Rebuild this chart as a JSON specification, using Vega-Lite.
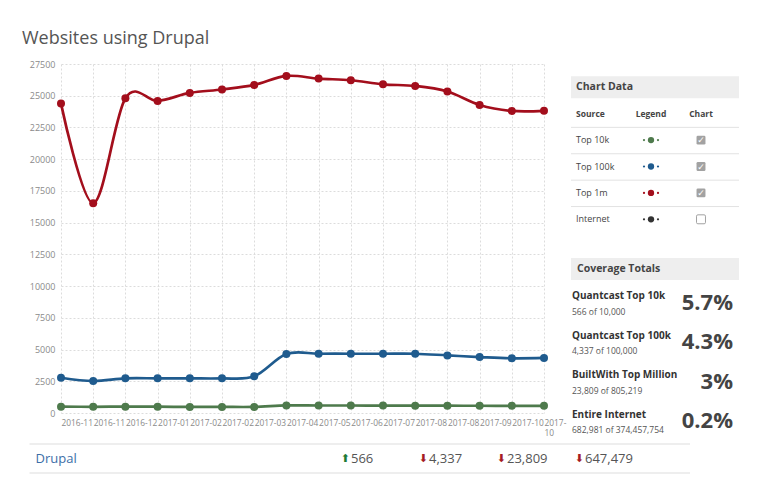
{
  "$schema": "https://vega.github.io/schema/vega-lite/v6.json",
  "background": "white",
  "padding": {"left": 22, "top": 30, "right": 5, "bottom": 5},
  "title": {"text": "Websites using Drupal", "anchor": "start", "fontSize": 18, "fontWeight": "normal", "color": "#555555", "font": "Open Sans", "offset": 12, "dx": -7},
  "config": {"font": "Open Sans", "view": {"stroke": null}},
  "spacing": 1,
  "vconcat": [
    {
      "spacing": 4,
      "hconcat": [
        {
          "width": 483,
          "height": 349,
          "data": {"values": [
            {"date": "2016-11-01", "source": "Top 10k", "sites": 500},
            {"date": "2016-11-28", "source": "Top 10k", "sites": 490},
            {"date": "2016-12-19", "source": "Top 10k", "sites": 500},
            {"date": "2017-01-16", "source": "Top 10k", "sites": 500},
            {"date": "2017-02-06", "source": "Top 10k", "sites": 480},
            {"date": "2017-02-27", "source": "Top 10k", "sites": 480},
            {"date": "2017-03-20", "source": "Top 10k", "sites": 480},
            {"date": "2017-04-17", "source": "Top 10k", "sites": 600},
            {"date": "2017-05-15", "source": "Top 10k", "sites": 590},
            {"date": "2017-06-12", "source": "Top 10k", "sites": 590},
            {"date": "2017-07-10", "source": "Top 10k", "sites": 585},
            {"date": "2017-08-07", "source": "Top 10k", "sites": 580},
            {"date": "2017-08-28", "source": "Top 10k", "sites": 575},
            {"date": "2017-09-18", "source": "Top 10k", "sites": 570},
            {"date": "2017-10-09", "source": "Top 10k", "sites": 568},
            {"date": "2017-10-30", "source": "Top 10k", "sites": 566},
            {"date": "2016-11-01", "source": "Top 100k", "sites": 2780},
            {"date": "2016-11-28", "source": "Top 100k", "sites": 2520},
            {"date": "2016-12-19", "source": "Top 100k", "sites": 2730},
            {"date": "2017-01-16", "source": "Top 100k", "sites": 2730},
            {"date": "2017-02-06", "source": "Top 100k", "sites": 2730},
            {"date": "2017-02-27", "source": "Top 100k", "sites": 2730},
            {"date": "2017-03-20", "source": "Top 100k", "sites": 2890},
            {"date": "2017-04-17", "source": "Top 100k", "sites": 4645},
            {"date": "2017-05-15", "source": "Top 100k", "sites": 4670},
            {"date": "2017-06-12", "source": "Top 100k", "sites": 4670},
            {"date": "2017-07-10", "source": "Top 100k", "sites": 4670},
            {"date": "2017-08-07", "source": "Top 100k", "sites": 4670},
            {"date": "2017-08-28", "source": "Top 100k", "sites": 4540},
            {"date": "2017-09-18", "source": "Top 100k", "sites": 4410},
            {"date": "2017-10-09", "source": "Top 100k", "sites": 4310},
            {"date": "2017-10-30", "source": "Top 100k", "sites": 4337},
            {"date": "2016-11-01", "source": "Top 1m", "sites": 24380},
            {"date": "2016-11-28", "source": "Top 1m", "sites": 16530},
            {"date": "2016-12-19", "source": "Top 1m", "sites": 24800},
            {"date": "2017-01-16", "source": "Top 1m", "sites": 24590},
            {"date": "2017-02-06", "source": "Top 1m", "sites": 25220},
            {"date": "2017-02-27", "source": "Top 1m", "sites": 25490},
            {"date": "2017-03-20", "source": "Top 1m", "sites": 25850},
            {"date": "2017-04-17", "source": "Top 1m", "sites": 26560},
            {"date": "2017-05-15", "source": "Top 1m", "sites": 26350},
            {"date": "2017-06-12", "source": "Top 1m", "sites": 26220},
            {"date": "2017-07-10", "source": "Top 1m", "sites": 25900},
            {"date": "2017-08-07", "source": "Top 1m", "sites": 25770},
            {"date": "2017-08-28", "source": "Top 1m", "sites": 25330},
            {"date": "2017-09-18", "source": "Top 1m", "sites": 24270},
            {"date": "2017-10-09", "source": "Top 1m", "sites": 23800},
            {"date": "2017-10-30", "source": "Top 1m", "sites": 23809}
          ]},
          "encoding": {
            "x": {"field": "date", "type": "ordinal", "scale": {"type": "point", "padding": 0},
              "axis": {"title": null, "labelAngle": 0, "labelAlign": "left", "labelExpr": "datum.index == 1 ? ['2017-', '10'] : slice(datum.value, 0, 7)", "labelFontSize": 8.4, "labelColor": "#8a8a8a", "labelPadding": 5, "labelLineHeight": 10, "ticks": false, "domain": false, "grid": true, "gridColor": "#dcdcdc", "gridDash": [2, 2], "labelOverlap": false}},
            "y": {"field": "sites", "type": "quantitative", "scale": {"domain": [0, 27500], "nice": false},
              "axis": {"title": null, "values": [0, 2500, 5000, 7500, 10000, 12500, 15000, 17500, 20000, 22500, 25000, 27500], "format": "d", "labelFontSize": 9, "labelColor": "#8a8a8a", "labelPadding": 6, "ticks": false, "domain": false, "gridColor": "#dcdcdc", "gridDash": [2, 2]}},
            "color": {"field": "source", "type": "nominal", "scale": {"domain": ["Top 10k", "Top 100k", "Top 1m", "Internet"], "range": ["#4e7a4c", "#1f5b8e", "#a30e1c", "#333333"]}, "legend": null}
          },
          "layer": [
            {"mark": {"type": "line", "interpolate": "cardinal", "strokeWidth": 2.7}},
            {"mark": {"type": "point", "filled": true, "size": 64, "opacity": 1}}
          ]
        },
        {
          "spacing": 27,
          "vconcat": [
            {
              "width": 168,
              "height": 166.3,
              "data": {"values": [
                {"source": "Top 10k", "chart": true},
                {"source": "Top 100k", "chart": true},
                {"source": "Top 1m", "chart": true},
                {"source": "Internet", "chart": false}
              ]},
              "layer": [
                {
                  "data": {"values": [{"heading": "Chart Data"}]},
                  "mark": {"type": "rect", "color": "#eeeeee"},
                  "encoding": {"y": {"field": "heading", "type": "nominal", "scale": {"type": "band", "domain": ["Chart Data", "Source", "Top 10k", "Top 100k", "Top 1m", "Internet"], "paddingInner": 0.167, "paddingOuter": 0.233, "align": 1}, "axis": null}}
                },
                {
                  "data": {"values": [{"heading": "Chart Data"}]},
                  "mark": {"type": "text", "align": "left", "baseline": "middle", "fontSize": 10.5, "fontWeight": "bold", "color": "#444444"},
                  "encoding": {
                    "y": {"field": "heading", "type": "nominal", "axis": null},
                    "x": {"datum": "Source", "type": "nominal", "bandPosition": 0, "scale": {"type": "band", "domain": ["Source", "Legend", "Chart"], "range": [5, 155], "paddingInner": 0, "paddingOuter": 0}, "axis": null},
                    "text": {"field": "heading"}
                  }
                },
                {
                  "data": {"values": [{"column": "Source"}]},
                  "mark": {"type": "text", "align": "left", "baseline": "middle", "fontSize": 8.5, "fontWeight": "bold", "color": "#444444"},
                  "encoding": {
                    "y": {"datum": "Source", "type": "nominal", "axis": null},
                    "x": {"field": "column", "type": "nominal", "bandPosition": 0, "axis": null},
                    "text": {"field": "column"}
                  }
                },
                {
                  "data": {"values": [{"column": "Legend"}, {"column": "Chart"}]},
                  "mark": {"type": "text", "align": "center", "baseline": "middle", "fontSize": 8.5, "fontWeight": "bold", "color": "#444444"},
                  "encoding": {
                    "y": {"datum": "Source", "type": "nominal", "axis": null},
                    "x": {"field": "column", "type": "nominal", "axis": null},
                    "text": {"field": "column"}
                  }
                },
                {
                  "mark": {"type": "rule", "color": "#e2e2e2", "strokeWidth": 1},
                  "encoding": {"y": {"field": "source", "type": "nominal", "bandPosition": -0.08, "axis": null}}
                },
                {
                  "mark": {"type": "text", "align": "left", "baseline": "middle", "fontSize": 9, "color": "#444444"},
                  "encoding": {
                    "y": {"field": "source", "type": "nominal", "axis": null},
                    "x": {"datum": "Source", "type": "nominal", "bandPosition": 0, "axis": null},
                    "text": {"field": "source"}
                  }
                },
                {
                  "mark": {"type": "point", "filled": true, "size": 5, "opacity": 1, "xOffset": -7},
                  "encoding": {
                    "y": {"field": "source", "type": "nominal", "axis": null},
                    "x": {"datum": "Legend", "type": "nominal", "axis": null},
                    "color": {"field": "source", "type": "nominal", "legend": null}
                  }
                },
                {
                  "mark": {"type": "point", "filled": true, "size": 5, "opacity": 1, "xOffset": 7},
                  "encoding": {
                    "y": {"field": "source", "type": "nominal", "axis": null},
                    "x": {"datum": "Legend", "type": "nominal", "axis": null},
                    "color": {"field": "source", "type": "nominal", "legend": null}
                  }
                },
                {
                  "mark": {"type": "point", "filled": true, "size": 40, "opacity": 1},
                  "encoding": {
                    "y": {"field": "source", "type": "nominal", "axis": null},
                    "x": {"datum": "Legend", "type": "nominal", "axis": null},
                    "color": {"field": "source", "type": "nominal", "legend": null}
                  }
                },
                {
                  "transform": [{"filter": "datum.chart"}],
                  "mark": {"type": "point", "shape": "M -0.7 -1 H 0.7 Q 1 -1 1 -0.7 V 0.7 Q 1 1 0.7 1 H -0.7 Q -1 1 -1 0.7 V -0.7 Q -1 -1 -0.7 -1 Z", "filled": true, "size": 80, "opacity": 1, "color": "#a2a2a2"},
                  "encoding": {
                    "y": {"field": "source", "type": "nominal", "axis": null},
                    "x": {"datum": "Chart", "type": "nominal", "axis": null}
                  }
                },
                {
                  "transform": [{"filter": "datum.chart"}],
                  "mark": {"type": "text", "text": "✓", "align": "center", "baseline": "middle", "fontSize": 9, "fontWeight": "bold", "color": "#ffffff", "font": "DejaVu Sans"},
                  "encoding": {
                    "y": {"field": "source", "type": "nominal", "axis": null},
                    "x": {"datum": "Chart", "type": "nominal", "axis": null}
                  }
                },
                {
                  "transform": [{"filter": "!datum.chart"}],
                  "mark": {"type": "point", "shape": "M -0.7 -1 H 0.7 Q 1 -1 1 -0.7 V 0.7 Q 1 1 0.7 1 H -0.7 Q -1 1 -1 0.7 V -0.7 Q -1 -1 -0.7 -1 Z", "filled": false, "size": 80, "opacity": 1, "color": "#a2a2a2", "strokeWidth": 1},
                  "encoding": {
                    "y": {"field": "source", "type": "nominal", "axis": null},
                    "x": {"datum": "Chart", "type": "nominal", "axis": null}
                  }
                }
              ]
            },
            {
              "spacing": 4,
              "vconcat": [
                {
                  "width": 168,
                  "height": 22,
                  "data": {"values": [{"heading": "Coverage Totals"}]},
                  "layer": [
                    {
                      "mark": {"type": "rect", "color": "#eeeeee"},
                      "encoding": {"y": {"field": "heading", "type": "nominal", "scale": {"type": "band", "paddingInner": 0, "paddingOuter": 0}, "axis": null}}
                    },
                    {
                      "mark": {"type": "text", "align": "left", "baseline": "middle", "fontSize": 10.5, "fontWeight": "bold", "color": "#444444"},
                      "encoding": {
                        "y": {"field": "heading", "type": "nominal", "axis": null},
                        "x": {"field": "heading", "type": "nominal", "bandPosition": 0, "scale": {"type": "band", "range": [6, 168], "paddingInner": 0, "paddingOuter": 0}, "axis": null},
                        "text": {"field": "heading"}
                      }
                    }
                  ]
                },
                {
                  "width": 168,
                  "height": 158,
                  "data": {"values": [
                    {"label": "Quantcast Top 10k", "detail": "566 of 10,000", "share": 0.057},
                    {"label": "Quantcast Top 100k", "detail": "4,337 of 100,000", "share": 0.043},
                    {"label": "BuiltWith Top Million", "detail": "23,809 of 805,219", "share": 0.03},
                    {"label": "Entire Internet", "detail": "682,981 of 374,457,754", "share": 0.002}
                  ]},
                  "layer": [
                    {
                      "mark": {"type": "text", "align": "left", "baseline": "middle", "fontSize": 10, "fontWeight": "bold", "color": "#333333"},
                      "encoding": {
                        "y": {"field": "label", "type": "nominal", "sort": null, "bandPosition": 0.31, "scale": {"type": "band", "paddingInner": 0, "paddingOuter": 0}, "axis": null},
                        "x": {"datum": "label", "type": "nominal", "bandPosition": 0, "scale": {"type": "band", "domain": ["label", "share"], "range": [1, 162], "paddingInner": 0, "paddingOuter": 0}, "axis": null},
                        "text": {"field": "label"}
                      }
                    },
                    {
                      "mark": {"type": "text", "align": "left", "baseline": "middle", "fontSize": 8.5, "color": "#555555"},
                      "encoding": {
                        "y": {"field": "label", "type": "nominal", "sort": null, "bandPosition": 0.7, "axis": null},
                        "x": {"datum": "label", "type": "nominal", "bandPosition": 0, "axis": null},
                        "text": {"field": "detail"}
                      }
                    },
                    {
                      "mark": {"type": "text", "align": "right", "baseline": "middle", "fontSize": 22, "fontWeight": "bold", "color": "#444444"},
                      "encoding": {
                        "y": {"field": "label", "type": "nominal", "sort": null, "bandPosition": 0.47, "axis": null},
                        "x": {"datum": "share", "type": "nominal", "bandPosition": 1, "axis": null},
                        "text": {"field": "share", "type": "quantitative", "format": ".1~%"}
                      }
                    }
                  ]
                }
              ]
            }
          ]
        }
      ]
    },
    {
      "width": 629,
      "height": 29,
      "data": {"values": [
        {"source": "Top 10k", "count": 566, "change": "up"},
        {"source": "Top 100k", "count": 4337, "change": "down"},
        {"source": "Top 1m", "count": 23809, "change": "down"},
        {"source": "Internet", "count": 647479, "change": "down"}
      ]},
      "resolve": {"scale": {"x": "independent"}},
      "layer": [
        {
          "data": {"values": [{"technology": "Drupal", "from": "start", "to": "end"}]},
          "mark": {"type": "rule", "color": "#dddddd"},
          "encoding": {
            "y": {"field": "technology", "type": "nominal", "bandPosition": 0, "scale": {"type": "band", "paddingInner": 0, "paddingOuter": 0}, "axis": null},
            "x": {"field": "from", "type": "nominal", "scale": {"type": "point", "domain": ["start", "end"], "range": [-31.5, 629], "padding": 0}, "axis": null},
            "x2": {"field": "to"}
          }
        },
        {
          "data": {"values": [{"technology": "Drupal", "from": "start", "to": "end"}]},
          "mark": {"type": "rule", "color": "#dddddd"},
          "encoding": {
            "y": {"field": "technology", "type": "nominal", "bandPosition": 1, "axis": null},
            "x": {"field": "from", "type": "nominal", "scale": {"type": "point", "domain": ["start", "end"], "range": [-31.5, 629], "padding": 0}, "axis": null},
            "x2": {"field": "to"}
          }
        },
        {
          "data": {"values": [{"technology": "Drupal"}]},
          "mark": {"type": "text", "align": "left", "baseline": "middle", "fontSize": 13, "color": "#3c6ea8"},
          "encoding": {
            "y": {"field": "technology", "type": "nominal", "axis": null},
            "x": {"field": "technology", "type": "nominal", "bandPosition": 0, "scale": {"type": "band", "range": [-25.5, 629], "paddingInner": 0, "paddingOuter": 0}, "axis": null},
            "text": {"field": "technology"}
          }
        },
        {
          "mark": {"type": "text", "align": "left", "baseline": "middle", "fontSize": 13, "color": "#555555"},
          "encoding": {
            "y": {"datum": "Drupal", "type": "nominal", "axis": null},
            "x": {"field": "source", "type": "nominal", "sort": null, "scale": {"type": "point", "domain": ["Top 10k", "Top 100k", "Top 1m", "Internet"], "range": [290, 524], "padding": 0}, "axis": null},
            "text": {"field": "count", "type": "quantitative", "format": ","}
          }
        },
        {
          "transform": [{"filter": "datum.change == 'up'"}],
          "mark": {"type": "text", "text": "⬆", "align": "right", "baseline": "middle", "fontSize": 11, "dx": -1, "color": "#1e7a34", "font": "DejaVu Sans"},
          "encoding": {
            "y": {"datum": "Drupal", "type": "nominal", "axis": null},
            "x": {"field": "source", "type": "nominal", "sort": null, "scale": {"type": "point", "domain": ["Top 10k", "Top 100k", "Top 1m", "Internet"], "range": [290, 524], "padding": 0}, "axis": null}
          }
        },
        {
          "transform": [{"filter": "datum.change == 'down'"}],
          "mark": {"type": "text", "text": "⬇", "align": "right", "baseline": "middle", "fontSize": 11, "dx": -1, "color": "#a51c24", "font": "DejaVu Sans"},
          "encoding": {
            "y": {"datum": "Drupal", "type": "nominal", "axis": null},
            "x": {"field": "source", "type": "nominal", "sort": null, "scale": {"type": "point", "domain": ["Top 10k", "Top 100k", "Top 1m", "Internet"], "range": [290, 524], "padding": 0}, "axis": null}
          }
        }
      ]
    }
  ]
}
